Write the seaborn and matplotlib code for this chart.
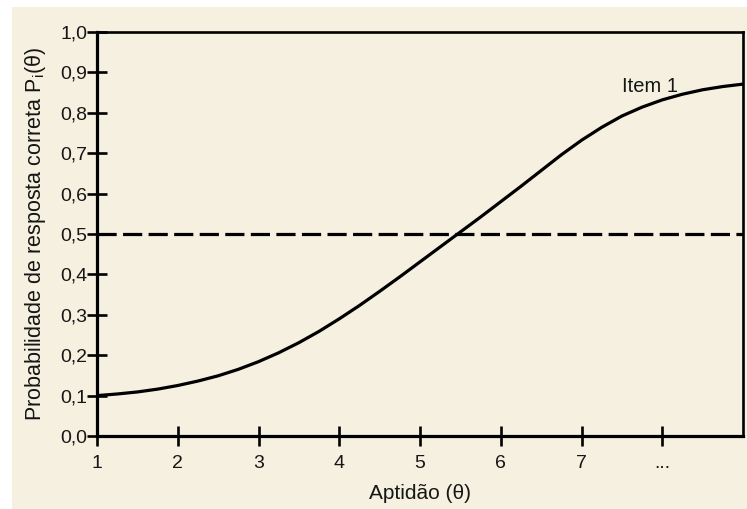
import matplotlib
matplotlib.use("Agg")
import matplotlib.pyplot as plt
from matplotlib.patches import Rectangle
import pandas as pd
import seaborn as sns

# Item characteristic curve, read at quarter steps of ability
theta = [1.00, 1.25, 1.50, 1.75, 2.00, 2.25, 2.50, 2.75, 3.00, 3.25, 3.50,
         3.75, 4.00, 4.25, 4.50, 4.75, 5.00, 5.25, 5.50, 5.75, 6.00, 6.25,
         6.50, 6.75, 7.00, 7.25, 7.50, 7.75, 8.00, 8.25, 8.50, 8.75, 9.00]
prob = [0.100, 0.104, 0.109, 0.116, 0.125, 0.136, 0.149, 0.165, 0.184, 0.206,
        0.231, 0.259, 0.290, 0.323, 0.358, 0.394, 0.431, 0.468, 0.505, 0.542,
        0.580, 0.618, 0.657, 0.696, 0.732, 0.764, 0.792, 0.814, 0.832, 0.846,
        0.857, 0.865, 0.871]
threshold = 0.5

x_ticks = [1, 2, 3, 4, 5, 6, 7, 8]
x_tick_labels = ["1", "2", "3", "4", "5", "6", "7", "..."]
y_ticks = [0.0, 0.1, 0.2, 0.3, 0.4, 0.5, 0.6, 0.7, 0.8, 0.9, 1.0]
y_tick_labels = ["0,0", "0,1", "0,2", "0,3", "0,4", "0,5", "0,6", "0,7",
                 "0,8", "0,9", "1,0"]

sns.set_theme(style="ticks")
plt.rcParams["font.family"] = ["Liberation Sans", "DejaVu Sans"]

paper = "#f5f0df"
ink = "#161616"

fig = plt.figure(figsize=(7.47, 5.09), dpi=100)
fig.patch.set_facecolor("white")
fig.patches.append(Rectangle((12 / 747, 0), 1 - 12 / 747, 1 - 7 / 509,
                             transform=fig.transFigure, facecolor=paper,
                             edgecolor="none", zorder=-10))

ax = fig.add_axes([97 / 747, 73 / 509, 646 / 747, 404 / 509])
ax.set_facecolor(paper)

df = pd.DataFrame({"theta": theta, "prob": prob})
sns.lineplot(data=df, x="theta", y="prob", ax=ax, color="black",
             linewidth=2.3, solid_capstyle="round", solid_joinstyle="round")
ax.axhline(threshold, color="black", linewidth=2.3, linestyle=(0, (6, 2)))

ax.text(8.2, 0.851, "Item 1", fontsize=14.5, color=ink, ha="right",
        va="baseline")

ax.set_xlim(1, 9)
ax.set_ylim(0, 1)
ax.set_xticks(x_ticks)
ax.set_xticklabels(x_tick_labels)
ax.set_yticks(y_ticks)
ax.set_yticklabels(y_tick_labels)

for side in ["left", "bottom"]:
    ax.spines[side].set_linewidth(2.3)
for side in ["top", "right"]:
    ax.spines[side].set_linewidth(1.9)
for side in ax.spines:
    ax.spines[side].set_color("black")

ax.tick_params(axis="both", direction="inout", length=14, width=1.9,
               color="black", labelsize=14, labelcolor=ink)
ax.tick_params(axis="x", pad=7)
ax.tick_params(axis="y", pad=0)

ax.set_xlabel("Aptidão (θ)", fontsize=15, color=ink, labelpad=8)
ax.set_ylabel(r"Probabilidade de resposta correta P$_\mathregular{i}$(θ)",
              fontsize=15.5, color=ink, labelpad=9)

fig.savefig("out.png", dpi=100, facecolor=fig.get_facecolor())
